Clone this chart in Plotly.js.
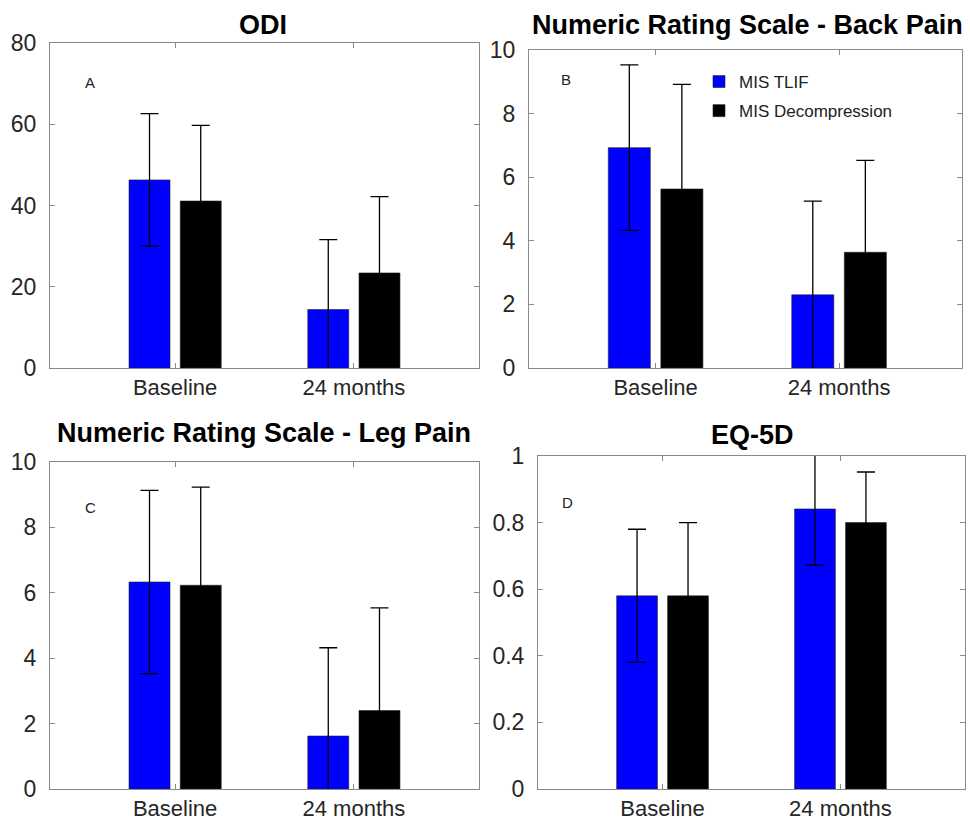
<!DOCTYPE html>
<html>
<head>
<meta charset="utf-8">
<script src="https://cdn.plot.ly/plotly-3.0.1.min.js"></script>
<style>html,body{margin:0;padding:0;background:#fff;}#chart{width:970px;height:823px;}</style>
</head>
<body>
<div id="chart"></div>
<script>
// ---- data ----
const categories = ["Baseline", "24 months"];
const seriesNames = ["MIS TLIF", "MIS Decompression"];

const odiTlif = [46.3, 14.4];
const odiTlifSd = [16.3, 17.2];
const odiDecomp = [41.1, 23.4];
const odiDecompSd = [18.6, 18.8];

const backTlif = [6.93, 2.30];
const backTlifSd = [2.6, 2.95];
const backDecomp = [5.63, 3.64];
const backDecompSd = [3.29, 2.89];

const legTlif = [6.33, 1.62];
const legTlifSd = [2.8, 2.7];
const legDecomp = [6.23, 2.40];
const legDecompSd = [3.0, 3.14];

const eqTlif = [0.58, 0.841];
const eqTlifSd = [0.20, 0.169];
const eqDecomp = [0.58, 0.80];
const eqDecompSd = [0.22, 0.152];

const panelTitles = ["ODI", "Numeric Rating Scale - Back Pain", "Numeric Rating Scale - Leg Pain", "EQ-5D"];
const panelLetters = ["A", "B", "C", "D"];

// ---- styling ----
const FONT = "Liberation Sans, Arial, Helvetica, sans-serif";
const colors = ["#0000ff", "#000000"];

function barTrace(name, y, sd, color, xa, ya, showLegend, group) {
  return {
    type: "bar", name: name, x: categories, y: y,
    xaxis: xa, yaxis: ya, showlegend: showLegend, legendgroup: group,
    marker: {color: color, line: {color: "#222", width: 0.6}},
    error_y: {type: "data", array: sd, visible: true, color: "#000", thickness: 1.3, width: 9},
    hoverinfo: "x+y"
  };
}

const panels = [
  {t: odiTlif, ts: odiTlifSd, d: odiDecomp, ds: odiDecompSd},
  {t: backTlif, ts: backTlifSd, d: backDecomp, ds: backDecompSd},
  {t: legTlif, ts: legTlifSd, d: legDecomp, ds: legDecompSd},
  {t: eqTlif, ts: eqTlifSd, d: eqDecomp, ds: eqDecompSd}
];

const data = [];
panels.forEach((p, i) => {
  const xa = i === 0 ? "x" : "x" + (i + 1);
  const ya = i === 0 ? "y" : "y" + (i + 1);
  data.push(barTrace(seriesNames[0], p.t, p.ts, colors[0], xa, ya, i === 1, "g0"));
  data.push(barTrace(seriesNames[1], p.d, p.ds, colors[1], xa, ya, i === 1, "g1"));
});

const W = 970, H = 823;
const boxes = [
  {l: 50, r: 479, t: 43, b: 368, yr: [0, 80], dt: 20, xr: [-0.7, 1.7]},
  {l: 529, r: 962, t: 50, b: 368, yr: [0, 10], dt: 2, xr: [-0.69, 1.67]},
  {l: 50, r: 479, t: 462, b: 789, yr: [0, 10], dt: 2, xr: [-0.7, 1.7]},
  {l: 538, r: 965, t: 456, b: 789, yr: [0, 1], dt: 0.2, xr: [-0.7, 1.7]}
];

const layout = {
  width: W, height: H,
  margin: {l: 0, r: 0, t: 0, b: 0},
  paper_bgcolor: "#fff", plot_bgcolor: "#fff",
  font: {family: FONT, color: "#262626", size: 21},
  barmode: "group", bargap: 0.427, bargroupgap: 0.2,
  showlegend: true,
  legend: {
    x: 699 / W, y: 1 - 64 / H, xanchor: "left", yanchor: "top",
    bgcolor: "rgba(255,255,255,0)", borderwidth: 0,
    font: {family: FONT, size: 17, color: "#222"},
    traceorder: "grouped", tracegroupgap: 4
  },
  annotations: [],
  shapes: []
};

const titlePos = [[263, 25], [747, 25], [264, 433], [752, 435]];
const letterPos = [[90, 82], [566, 79], [90, 507], [567, 502]];

boxes.forEach((b, i) => {
  const sfx = i === 0 ? "" : String(i + 1);
  const xk = "xaxis" + sfx, yk = "yaxis" + sfx;
  const yref = i === 0 ? "y" : "y" + (i + 1);
  layout[xk] = {
    domain: [b.l / W, b.r / W], anchor: yref, range: b.xr,
    type: "category", showline: true, mirror: "ticks", linecolor: "#8a8a8a", linewidth: 1,
    ticks: "inside", ticklen: 5, tickcolor: "#8a8a8a",
    tickfont: {family: FONT, size: 22, color: "#262626"},
    showgrid: false, zeroline: false, fixedrange: true
  };
  layout[yk] = {
    domain: [1 - b.b / H, 1 - b.t / H], anchor: i === 0 ? "x" : "x" + (i + 1),
    range: b.yr, dtick: b.dt, tick0: 0,
    showline: true, mirror: "ticks", linecolor: "#8a8a8a", linewidth: 1,
    ticks: "inside", ticklen: 5, tickcolor: "#8a8a8a", ticklabelstandoff: 8,
    tickfont: {family: FONT, size: 23, color: "#262626"},
    showgrid: false, zeroline: false, fixedrange: true
  };
  layout.annotations.push({
    text: "<b>" + panelTitles[i] + "</b>", xref: "paper", yref: "paper",
    x: titlePos[i][0] / W, y: 1 - titlePos[i][1] / H, xanchor: "center", yanchor: "middle",
    showarrow: false, font: {family: FONT, size: 27, color: "#000"}
  });
  layout.annotations.push({
    text: panelLetters[i], xref: "paper", yref: "paper",
    x: letterPos[i][0] / W, y: 1 - letterPos[i][1] / H, xanchor: "center", yanchor: "middle",
    showarrow: false, font: {family: FONT, size: 15, color: "#222"}
  });
});

Plotly.newPlot("chart", data, layout, {displayModeBar: false, staticPlot: true});
</script>
</body>
</html>
